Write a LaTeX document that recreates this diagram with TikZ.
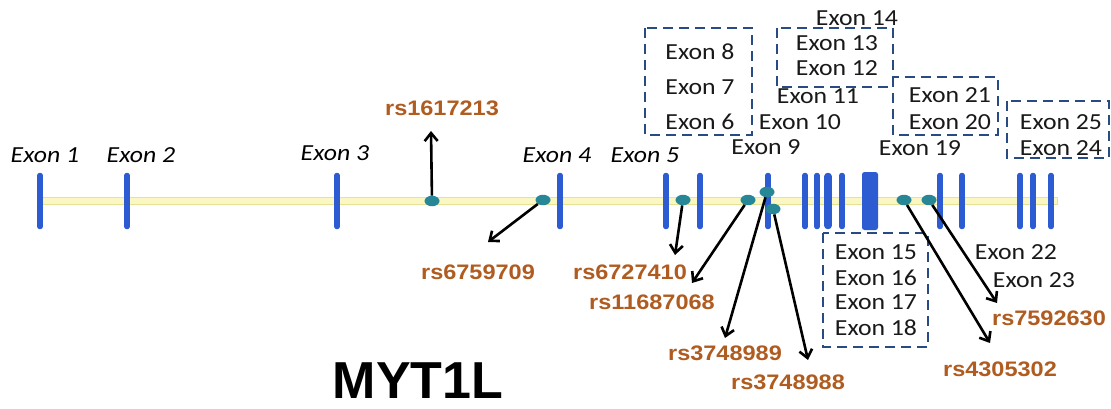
\documentclass[tikz,border=0pt]{standalone}
\usepackage{fontspec}
\usepackage{graphicx}
\setmainfont{Carlito}
\newfontfamily\labfont{Liberation Sans}
\usetikzlibrary{arrows.meta,shapes.geometric}
\definecolor{exonblue}{RGB}{45,92,210}
\definecolor{track}{RGB}{250,247,195}
\definecolor{trackedge}{RGB}{232,226,150}
\definecolor{snp}{RGB}{40,135,150}
\definecolor{rsbrown}{RGB}{176,92,32}
\definecolor{boxblue}{RGB}{40,75,130}
\definecolor{exontext}{RGB}{25,25,25}
\newcommand\wx[1]{\scalebox{1.12}[1]{#1}}
\begin{document}
\begin{tikzpicture}[x=1pt,y=-1pt,
  exonbar/.style={line width=5.5pt, draw=exonblue, line cap=round},
  snpdot/.style={ellipse, fill=snp, minimum width=15pt, minimum height=10.5pt, inner sep=0pt},
  exonit/.style={font=\fontsize{23}{23}\selectfont\itshape, inner sep=0pt},
  exonrg/.style={font=\fontsize{23}{23}\selectfont, text=exontext, inner sep=0pt},
  rslab/.style={font=\labfont\bfseries\fontsize{21}{21}\selectfont, text=rsbrown, inner sep=0pt},
  snparrow/.style={line width=2.6pt, -{Straight Barb[length=8pt,width=13pt]}},
  dbox/.style={draw=boxblue, line width=2.7pt, dash pattern=on 10pt off 6pt}]
\useasboundingbox (0,0) rectangle (1111,409);
\fill[white] (0,0) rectangle (1111,409);

% track
\fill[track, draw=trackedge, line width=0.8pt] (40,197.5) rectangle (1057,204.5);

% exon bars
\foreach \x in {40,127,337,560,666,700,768,805,817,842,940,962,1020,1033,1051}
  \draw[exonbar] (\x,175.5) -- (\x,226.5);
\draw[exonbar, line width=7.5pt] (828,176.5) -- (828,225.5);
\fill[exonblue, rounded corners=2.5pt] (862,172) rectangle (878,230);

% exon labels (italic)
\node[exonit] (e1) at (45,155) {\wx{Exon 1}};
\node[exonit] (e2) at (141,155) {\wx{Exon 2}};
\node[exonit] (e3) at (335,153) {\wx{Exon 3}};
\node[exonit] (e4) at (557,155) {\wx{Exon 4}};
\node[exonit] (e5) at (645,155) {\wx{Exon 5}};

% exon labels (regular)
\node[exonrg] (e8) at (700,52) {\wx{Exon 8}};
\node[exonrg] (e7) at (700,87) {\wx{Exon 7}};
\node[exonrg] (e6) at (700,122) {\wx{Exon 6}};
\node[exonrg] (e9) at (766,147) {\wx{Exon 9}};
\node[exonrg] (e10) at (800,122) {\wx{Exon 10}};
\node[exonrg] (e11) at (818,96) {\wx{Exon 11}};
\node[exonrg] (e12) at (837,68) {\wx{Exon 12}};
\node[exonrg] (e13) at (837,43) {\wx{Exon 13}};
\node[exonrg] (e14) at (857,18) {\wx{Exon 14}};
\node[exonrg] (e15) at (876,252) {\wx{Exon 15}};
\node[exonrg] (e16) at (876,278) {\wx{Exon 16}};
\node[exonrg] (e17) at (876,302) {\wx{Exon 17}};
\node[exonrg] (e18) at (876,328) {\wx{Exon 18}};
\node[exonrg] (e19) at (920,148) {\wx{Exon 19}};
\node[exonrg] (e20) at (950,122) {\wx{Exon 20}};
\node[exonrg] (e21) at (950,95) {\wx{Exon 21}};
\node[exonrg] (e22) at (1016,252) {\wx{Exon 22}};
\node[exonrg] (e23) at (1034,280) {\wx{Exon 23}};
\node[exonrg] (e24) at (1061,148) {\wx{Exon 24}};
\node[exonrg] (e25) at (1061,122) {\wx{Exon 25}};

% dashed boxes
\draw[dbox] (645,28) rectangle (752,135);
\draw[dbox] (777,28) rectangle (893,87);
\draw[dbox] (893,77) rectangle (998,135);
\draw[dbox] (1007,101) rectangle (1109,158);
\draw[dbox] (823,233) rectangle (928,347);

% SNP labels
\node[rslab] (l1) at (442,108) {\wx{rs1617213}};
\node[rslab] (l2) at (478,272) {\wx{rs6759709}};
\node[rslab] (l3) at (630,272) {\wx{rs6727410}};
\node[rslab] (l4) at (652,302) {\wx{rs11687068}};
\node[rslab] (l5) at (725,353) {\wx{rs3748989}};
\node[rslab] (l6) at (788,382) {\wx{rs3748988}};
\node[rslab] (l7) at (1000,369) {\wx{rs4305302}};
\node[rslab] (l8) at (1049,318) {\wx{rs7592630}};

% arrow tips
\coordinate (t1) at (431,131);
\coordinate (t2) at (488,242);
\coordinate (t3) at (675,255);
\coordinate (t4) at (692,283);
\coordinate (t5) at (725,338);
\coordinate (t6) at (808,360);
\coordinate (t7) at (990,343);
\coordinate (t8) at (997,303);

% SNP dots
\node[snpdot] (s1) at (432,201) {};
\node[snpdot] (s2) at (543,200) {};
\node[snpdot] (s3) at (683,200) {};
\node[snpdot] (s4) at (748,200) {};
\node[snpdot] (s5) at (767,192) {};
\node[snpdot] (s6) at (773,209) {};
\node[snpdot] (s7) at (904,200) {};
\node[snpdot] (s8) at (929,200) {};

% arrows
\draw[snparrow] (s1) -- (t1);
\draw[snparrow] (s2) -- (t2);
\draw[snparrow] (s3) -- (t3);
\draw[snparrow] (s4) -- (t4);
\draw[snparrow] (s5) -- (t5);
\draw[snparrow] (s6) -- (t6);
\draw[snparrow] (s7) -- (t7);
\draw[snparrow] (s8) -- (t8);

% gene name
\node[font=\labfont\bfseries\fontsize{52}{52}\selectfont, inner sep=0pt] (gene) at (418,381) {MYT1L};
\end{tikzpicture}
\end{document}
